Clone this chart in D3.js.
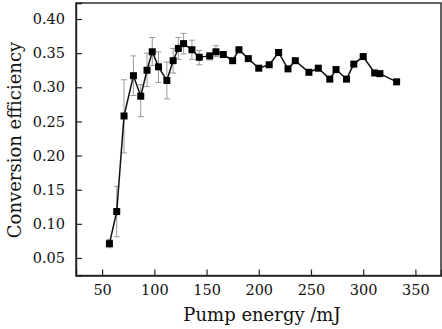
<!DOCTYPE html>
<html><head><meta charset="utf-8">
<script src="https://cdn.jsdelivr.net/npm/d3@7"></script>
<style>
html,body{margin:0;padding:0;background:#fff;}
svg{display:block;}
text{font-family:"DejaVu Serif",serif;fill:#111;}
</style></head>
<body>
<svg id="chart" width="442" height="329"></svg>
<script>
const energy = [57, 64, 71, 80, 87, 93, 98, 104, 112, 118, 123, 128, 136, 143, 153, 159, 166, 175, 181, 190, 200, 210, 219, 228, 235, 248, 257, 268, 274, 284, 291, 300, 311, 316, 332];
const efficiency = [0.071, 0.118, 0.258, 0.317, 0.287, 0.325, 0.352, 0.330, 0.310, 0.339, 0.357, 0.364, 0.355, 0.344, 0.346, 0.352, 0.348, 0.339, 0.355, 0.342, 0.328, 0.333, 0.351, 0.327, 0.339, 0.322, 0.328, 0.312, 0.326, 0.312, 0.334, 0.345, 0.321, 0.320, 0.308];
const errUpper = [0.077, 0.155, 0.311, 0.346, 0.304, 0.350, 0.373, 0.352, 0.337, 0.357, 0.373, 0.379, 0.369, 0.354, 0.350, 0.361, 0.352, 0.342, null, null, null, null, null, null, null, null, null, null, null, null, null, null, null, null, null];
const errLower = [0.065, 0.081, 0.204, 0.288, 0.257, 0.301, 0.332, 0.307, 0.283, 0.321, 0.341, 0.349, 0.341, 0.333, 0.340, 0.345, 0.344, 0.335, null, null, null, null, null, null, null, null, null, null, null, null, null, null, null, null, null];
const xTicks = [50, 100, 150, 200, 250, 300, 350];
const yTicks = [0.05, 0.10, 0.15, 0.20, 0.25, 0.30, 0.35, 0.40];
const xTitle = "Pump energy /mJ";
const yTitle = "Conversion efficiency";

const data = energy.map((e, i) => ({x: e, y: efficiency[i], hi: errUpper[i], lo: errLower[i]}));

const svg = d3.select("#chart");
const L = 76, R = 441, T = 3, B = 275.5;
const x = d3.scaleLinear().domain([25, 374.5]).range([L, R]);
const y = d3.scaleLinear().domain([0.0243, 0.4235]).range([B, T]);

// frame
svg.append("rect").attr("x", L).attr("y", T).attr("width", R - L).attr("height", B - T)
  .attr("fill", "none").attr("stroke", "#222").attr("stroke-width", 1.4);

// axes with inward ticks
const xAxis = svg.append("g").attr("transform", `translate(0,${B})`)
  .call(d3.axisBottom(x).tickValues(xTicks).tickSize(-6).tickPadding(9).tickFormat(d3.format("d")));
const yAxis = svg.append("g").attr("transform", `translate(${L},0)`)
  .call(d3.axisLeft(y).tickValues(yTicks).tickSize(-6).tickPadding(11).tickFormat(d3.format(".2f")));
[xAxis, yAxis].forEach(g => {
  g.select(".domain").attr("stroke", "#222").attr("stroke-width", 1.4);
  g.selectAll(".tick line").attr("stroke", "#222").attr("stroke-width", 1.2);
  g.selectAll(".tick text").attr("font-family", "DejaVu Serif").attr("font-size", 14.5).attr("fill", "#111");
});

// error bars
const eb = svg.append("g").attr("stroke", "#9a9a9a").attr("stroke-width", 1);
data.filter(d => d.hi != null).forEach(d => {
  const cx = x(d.x);
  eb.append("line").attr("x1", cx).attr("x2", cx).attr("y1", y(d.hi)).attr("y2", y(d.lo));
  eb.append("line").attr("x1", cx - 3).attr("x2", cx + 3).attr("y1", y(d.hi)).attr("y2", y(d.hi));
  eb.append("line").attr("x1", cx - 3).attr("x2", cx + 3).attr("y1", y(d.lo)).attr("y2", y(d.lo));
});

// line
svg.append("path").datum(data)
  .attr("d", d3.line().x(d => x(d.x)).y(d => y(d.y)))
  .attr("fill", "none").attr("stroke", "#111").attr("stroke-width", 1.5);

// markers
const s = 7;
svg.append("g").selectAll("rect").data(data).join("rect")
  .attr("x", d => x(d.x) - s / 2).attr("y", d => y(d.y) - s / 2)
  .attr("width", s).attr("height", s).attr("fill", "#000");

// titles
svg.append("text").attr("x", 262).attr("y", 321).attr("text-anchor", "middle")
  .attr("font-size", 18).text(xTitle);
svg.append("text").attr("transform", "translate(21,140) rotate(-90)").attr("text-anchor", "middle")
  .attr("font-size", 18).text(yTitle);
</script>
</body></html>
